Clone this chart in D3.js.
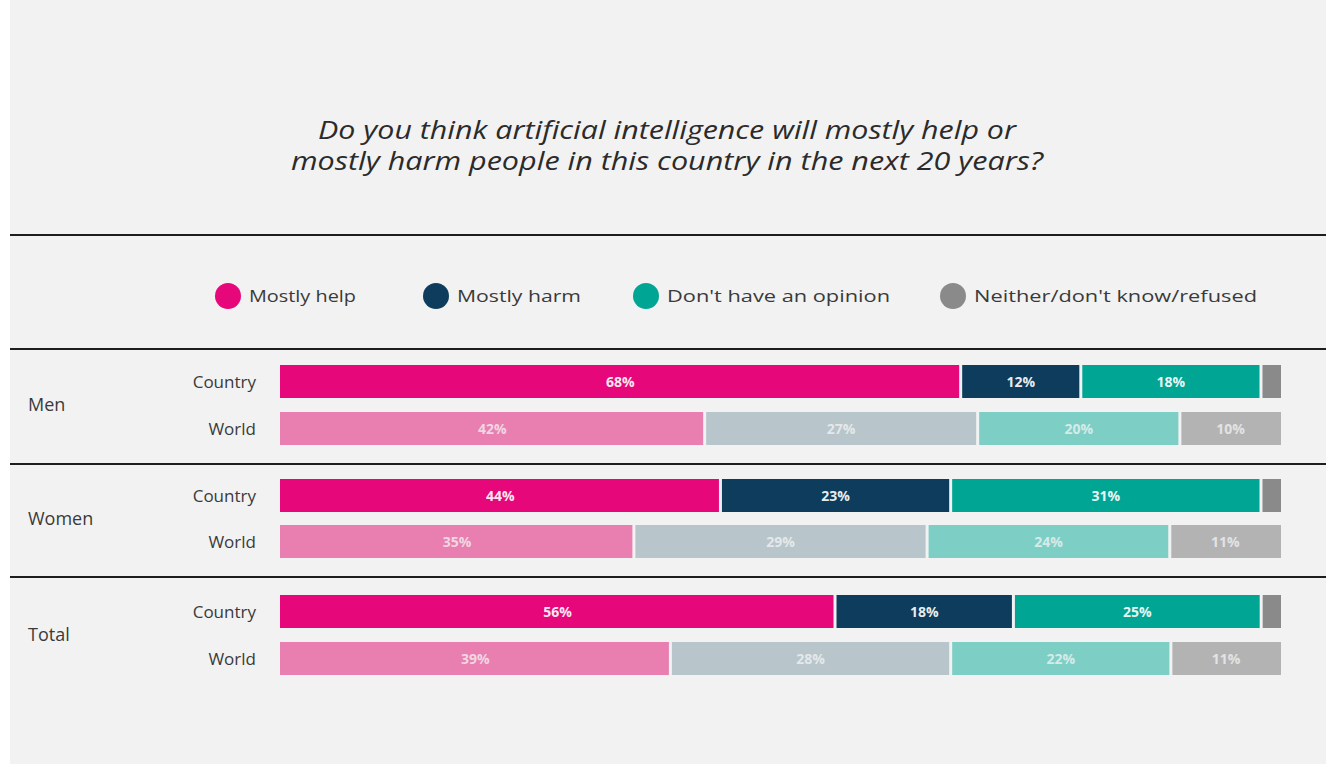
<!DOCTYPE html>
<html>
<head>
<meta charset="utf-8">
<script src="https://cdn.jsdelivr.net/npm/d3@7"></script>
<style>
  html, body { margin: 0; padding: 0; background: #ffffff; }
  svg { display: block; }
  text { font-family: "Open Sans", "Noto Sans", sans-serif; }
</style>
</head>
<body>
<svg id="chart" width="1326" height="764"></svg>
<script>
// Survey answers: share of respondents (%) per group and scope
const answers = ["Mostly help", "Mostly harm", "Don't have an opinion", "Neither/don't know/refused"];
const groups = ["Men", "Women", "Total"];
const scopes = ["Country", "World"];

const mostlyHelp  = [68, 42, 44, 35, 56, 39];
const mostlyHarm  = [12, 27, 23, 29, 18, 28];
const noOpinion   = [18, 20, 31, 24, 25, 22];
const neitherDK   = [2, 10, 2, 11, 2, 11];

const titleLines = [
  "Do you think artificial intelligence will mostly help or",
  "mostly harm people in this country in the next 20 years?"
];

// Row table built from the arrays above
const rows = [];
groups.forEach((g, gi) => scopes.forEach((s, si) => {
  const i = gi * 2 + si;
  rows.push({
    group: g, scope: s, key: g + "|" + s,
    [answers[0]]: mostlyHelp[i],
    [answers[1]]: mostlyHarm[i],
    [answers[2]]: noOpinion[i],
    [answers[3]]: neitherDK[i]
  });
}));

const svg = d3.select("#chart");
const W = 1326, H = 764;

// panel background
svg.append("rect").attr("x", 10).attr("y", 0).attr("width", W - 10).attr("height", H)
  .attr("fill", "#f2f2f2");

// title
svg.append("g").selectAll("text").data(titleLines).join("text")
  .attr("x", 667).attr("y", (d, i) => 139 + i * 31)
  .attr("text-anchor", "middle")
  .attr("font-size", 25)
  .attr("font-style", "italic")
  .attr("fill", "#2b2b2b")
  .attr("textLength", (d, i) => [698, 752][i])
  .attr("lengthAdjust", "spacingAndGlyphs")
  .text(d => d);

// separator rules
const rules = [235, 349, 464, 577];
svg.append("g").selectAll("line").data(rules).join("line")
  .attr("x1", 10).attr("x2", W)
  .attr("y1", d => d).attr("y2", d => d)
  .attr("stroke", "#1e1e1e").attr("stroke-width", 2);

// colours: strong for country, pale for world
const strong = d3.scaleOrdinal().domain(answers).range(["#e6077a", "#0e3c5c", "#00a594", "#8a8a8a"]);
const pale = d3.scaleOrdinal().domain(answers).range(["#e87fb0", "#b8c6cc", "#7dcfc6", "#b3b3b3"]);

// legend
const legendX = [228, 436, 646, 953];
const legend = svg.append("g").selectAll("g").data(answers).join("g")
  .attr("transform", (d, i) => `translate(${legendX[i]},296)`);
legend.append("circle").attr("r", 13).attr("fill", d => strong(d));
legend.append("text").attr("x", 21).attr("y", 6)
  .attr("font-size", 17).attr("fill", "#3a3a3a")
  .attr("textLength", (d, i) => [107, 124, 223, 283][i])
  .attr("lengthAdjust", "spacingAndGlyphs")
  .text(d => d);

// vertical layout of the bar rows
const rowTop = { "Men|Country": 365, "Men|World": 412, "Women|Country": 479, "Women|World": 525,
                 "Total|Country": 595, "Total|World": 642 };
const barH = 33;

// stacked, normalised to the full bar length
const stack = d3.stack().keys(answers).offset(d3.stackOffsetExpand);
const series = stack(rows);

const x = d3.scaleLinear().domain([0, 1]).range([280, 1281]);
const gap = 3;

const bars = svg.append("g");
series.forEach(s => {
  const key = s.key;
  const segs = bars.append("g").selectAll("g").data(s).join("g");
  segs.append("rect")
    .attr("x", d => x(d[0]) + (d[0] > 0 ? gap / 2 : 0))
    .attr("y", d => rowTop[d.data.key])
    .attr("width", d => Math.max(0, x(d[1]) - x(d[0]) - (d[0] > 0 ? gap / 2 : 0) - (d[1] < 1 ? gap / 2 : 0)))
    .attr("height", barH)
    .attr("fill", d => d.data.scope === "Country" ? strong(key) : pale(key));
  segs.filter(d => d.data[key] >= 5).append("text")
    .attr("x", d => (x(d[0]) + x(d[1])) / 2)
    .attr("y", d => rowTop[d.data.key] + barH / 2 + 5)
    .attr("text-anchor", "middle")
    .attr("font-size", 14).attr("font-weight", 700)
    .attr("fill", d => d.data.scope === "Country" ? "#ffffff" : "#f4f4f4")
    .attr("fill-opacity", d => d.data.scope === "Country" ? 0.92 : 0.75)
    .text(d => d.data[key] + "%");
});

// scope labels (right aligned) and group labels
const labels = svg.append("g");
labels.selectAll("text.scope").data(rows).join("text")
  .attr("class", "scope")
  .attr("x", 256)
  .attr("y", d => rowTop[d.key] + barH / 2 + 6)
  .attr("text-anchor", "end")
  .attr("font-size", 17).attr("fill", "#3a3a3a")
  .text(d => d.scope);

labels.selectAll("text.group").data(groups).join("text")
  .attr("class", "group")
  .attr("x", 28)
  .attr("y", g => (rowTop[g + "|Country"] + rowTop[g + "|World"] + barH) / 2 + 6)
  .attr("font-size", 18).attr("fill", "#3a3a3a")
  .text(g => g);
</script>
</body>
</html>
